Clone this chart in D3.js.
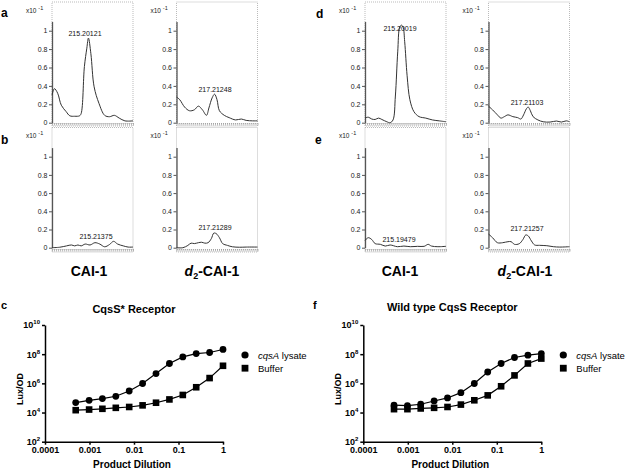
<!DOCTYPE html>
<html>
<head>
<meta charset="utf-8">
<script src="https://cdn.jsdelivr.net/npm/d3@7"></script>
<style>
body { margin: 0; background: #fff; }
svg { font-family: "Liberation Sans", Arial, sans-serif; }
</style>
</head>
<body>
<svg width="627" height="469"></svg>
<script>
// chromatogram traces: [relative retention time, intensity (x10^-1)]
const traceA = [[0,0.30],[0.03,0.37],[0.07,0.32],[0.115,0.19],[0.175,0.12],[0.22,0.075],[0.28,0.07],[0.34,0.075],[0.36,0.10],[0.40,0.61],[0.43,0.81],[0.45,0.92],[0.48,0.75],[0.52,0.39],[0.58,0.21],[0.65,0.08],[0.71,0.065],[0.77,0.08],[0.83,0.05],[0.9,0.02],[1.0,0.02]];
const traceAd2 = [[0,0.28],[0.04,0.25],[0.10,0.17],[0.16,0.13],[0.22,0.14],[0.27,0.18],[0.32,0.14],[0.37,0.08],[0.40,0.16],[0.44,0.27],[0.47,0.31],[0.50,0.25],[0.53,0.13],[0.59,0.08],[0.65,0.055],[0.73,0.03],[0.80,0.04],[0.86,0.025],[0.94,0.02],[1.0,0.02]];
const traceB = [[0,0],[0.095,0.005],[0.18,0.02],[0.24,0.03],[0.28,0.02],[0.32,0.03],[0.36,0.02],[0.41,0.04],[0.47,0.03],[0.53,0.055],[0.59,0.04],[0.65,0.01],[0.71,0.035],[0.76,0.07],[0.81,0.04],[0.88,0.02],[0.94,0.007],[1.0,0.007]];
const traceBd2 = [[0,0],[0.08,0],[0.14,0.025],[0.18,0.05],[0.22,0.045],[0.27,0.055],[0.31,0.06],[0.35,0.05],[0.39,0.055],[0.43,0.1],[0.46,0.16],[0.49,0.155],[0.53,0.11],[0.57,0.045],[0.63,0.025],[0.69,0.01],[0.78,0.005],[0.86,0.007],[1.0,0.007]];
const traceD = [[0,0.05],[0.04,0.06],[0.083,0.04],[0.125,0.035],[0.167,0.05],[0.208,0.035],[0.27,0.01],[0.31,0],[0.346,0.03],[0.375,0.29],[0.404,0.77],[0.429,1.04],[0.45,1.06],[0.47,1.04],[0.49,0.88],[0.52,0.51],[0.554,0.25],[0.604,0.12],[0.667,0.066],[0.75,0.05],[0.833,0.03],[0.917,0.02],[1.0,0.01]];
const traceDd2 = [[0,0.18],[0.05,0.14],[0.11,0.085],[0.154,0.05],[0.196,0.066],[0.24,0.085],[0.30,0.066],[0.36,0.055],[0.40,0.04],[0.433,0.085],[0.467,0.15],[0.49,0.17],[0.517,0.13],[0.55,0.066],[0.61,0.03],[0.675,0.01],[0.76,0.007],[0.84,0.018],[0.90,0.007],[0.96,0.02],[1.0,0.01]];
const traceE = [[0,0.08],[0.04,0.11],[0.083,0.09],[0.125,0.045],[0.19,0.037],[0.25,0.018],[0.31,0.03],[0.4,0.011],[0.48,0.018],[0.56,0.011],[0.65,0.015],[0.73,0.015],[0.78,0.037],[0.82,0.018],[0.9,0.011],[1.0,0.015]];
const traceEd2 = [[0,0.15],[0.05,0.11],[0.11,0.055],[0.175,0.055],[0.24,0.066],[0.28,0.066],[0.32,0.037],[0.38,0.044],[0.425,0.09],[0.46,0.14],[0.49,0.13],[0.53,0.074],[0.57,0.03],[0.63,0.026],[0.72,0.022],[0.8,0.011],[0.88,0.007],[1.0,0.011]];
const intensityTicks = [0, 0.2, 0.4, 0.6, 0.8, 1];

// dose response (Lux/OD)
const dilutions = [0.00049, 0.00098, 0.00195, 0.0039, 0.0078, 0.0156, 0.03125, 0.0625, 0.125, 0.25, 0.5, 1];
const lysateStar = [4.8e4, 6.9e4, 9.1e4, 1.3e5, 3.0e5, 9.8e5, 4.7e6, 2.3e7, 6.5e7, 1.1e8, 1.3e8, 2.1e8];
const bufferStar = [1.45e4, 1.6e4, 1.8e4, 2.1e4, 2.4e4, 3.1e4, 4.7e4, 7.9e4, 1.6e5, 5.4e5, 2.3e6, 1.6e7];
const lysateWT = [3.2e4, 3.0e4, 3.7e4, 6.2e4, 1.0e5, 2.3e5, 9.8e5, 6.0e6, 2.3e7, 5.9e7, 8.5e7, 1.1e8];
const bufferWT = [1.7e4, 1.7e4, 1.9e4, 2.1e4, 2.4e4, 3.5e4, 6.9e4, 1.5e5, 6.3e5, 3.5e6, 2.3e7, 5.0e7];
const luxTicks = [1e2, 1e4, 1e6, 1e8, 1e10];
const dilutionTicks = [0.0001, 0.001, 0.01, 0.1, 1];
const dilutionLabels = ["0.0001", "0.001", "0.01", "0.1", "1"];

const svg = d3.select("svg");

// ---------- chromatograms ----------
const cols = [52, 176.5, 365, 488.5];
const frameW = 81;
const rows = [
    {top: 2, bottom: 126, zero: 122.7, one: 30.7},
    {top: 127.5, bottom: 252, zero: 247.7, one: 156.7}
];

const chromPanels = [
    {trace: traceA, mass: "215.20121", col: 0, row: 0, lx: 85, ly: 35.5},
    {trace: traceAd2, mass: "217.21248", col: 1, row: 0, lx: 215, ly: 91.5},
    {trace: traceB, mass: "215.21375", col: 0, row: 1, lx: 96, ly: 239},
    {trace: traceBd2, mass: "217.21289", col: 1, row: 1, lx: 215, ly: 230},
    {trace: traceD, mass: "215.20019", col: 2, row: 0, lx: 400, ly: 30.5},
    {trace: traceDd2, mass: "217.21103", col: 3, row: 0, lx: 527, ly: 105},
    {trace: traceE, mass: "215.19479", col: 2, row: 1, lx: 399, ly: 242},
    {trace: traceEd2, mass: "217.21257", col: 3, row: 1, lx: 527, ly: 230.5}
];

chromPanels.forEach(p => {
    const x0 = cols[p.col];
    const r = rows[p.row];
    const unit = r.zero - r.one;
    const x = d3.scaleLinear().domain([0, 1]).range([x0, x0 + frameW]);
    const y = d3.scaleLinear().domain([0, 1.1]).range([r.zero, r.zero - 1.1 * unit]);
    const g = svg.append("g");

    // dotted frame
    g.append("rect")
        .attr("x", x0).attr("y", r.top)
        .attr("width", frameW).attr("height", r.bottom - r.top)
        .attr("fill", "none")
        .attr("stroke", "#aaa")
        .attr("stroke-width", 0.8)
        .attr("stroke-dasharray", "1,1");

    // dense tick band along the time axis
    const xAxis = d3.axisBottom(x)
        .tickValues(d3.range(0, 1.0001, 1 / 40))
        .tickSize(2.5).tickSizeOuter(0).tickFormat("");
    const xg = g.append("g")
        .attr("transform", `translate(0,${r.bottom - 3})`)
        .call(xAxis);
    xg.select(".domain").attr("stroke", "#bbb").attr("stroke-dasharray", "1,1");
    xg.selectAll(".tick line").attr("stroke", "#999").attr("stroke-width", 0.7);

    // intensity axis
    const yAxis = d3.axisLeft(y)
        .tickValues(intensityTicks)
        .tickSize(3).tickSizeOuter(0).tickPadding(1.5)
        .tickFormat(d => String(d));
    const yg = g.append("g")
        .attr("transform", `translate(${x0},0)`)
        .call(yAxis);
    yg.select(".domain").attr("stroke", "#555").attr("stroke-width", 1.3);
    yg.selectAll(".tick line").attr("stroke", "#555");
    yg.selectAll(".tick text")
        .attr("font-size", 7)
        .attr("font-family", "'Liberation Sans', Arial, sans-serif")
        .attr("fill", "#222");

    // x10^-1 multiplier
    const mult = g.append("text")
        .attr("x", x0 - 26).attr("y", r.top + 10.5)
        .attr("font-size", 6.5).attr("fill", "#222")
        .text("x10 ");
    mult.append("tspan").attr("dy", -3).attr("font-size", 5.5).text("-1");

    // trace
    const line = d3.line()
        .x(d => x(d[0]))
        .y(d => y(d[1]))
        .curve(d3.curveCatmullRom.alpha(0.5));
    g.append("path")
        .datum(p.trace)
        .attr("d", line)
        .attr("fill", "none")
        .attr("stroke", "#333")
        .attr("stroke-width", 1);

    // mass label
    g.append("text")
        .attr("x", p.lx).attr("y", p.ly)
        .attr("text-anchor", "middle")
        .attr("font-size", 7).attr("fill", "#111")
        .text(p.mass);
});

// panel letters
[["a", 1, 17], ["b", 1, 144], ["d", 316, 18], ["e", 315, 144]].forEach(([t, lx, ly]) => {
    svg.append("text").attr("x", lx).attr("y", ly)
        .attr("font-size", 12).attr("font-weight", "bold").text(t);
});

// compound names under the columns
[[89, false], [212, true], [400, false], [525, true]].forEach(([cx, deut]) => {
    const t = svg.append("text")
        .attr("x", cx).attr("y", 276)
        .attr("text-anchor", "middle")
        .attr("font-size", 14).attr("font-weight", "bold");
    if (deut) {
        t.append("tspan").attr("font-style", "italic").text("d");
        t.append("tspan").attr("font-size", 9).attr("dy", 3).text("2");
        t.append("tspan").attr("dy", -3).text("-CAI-1");
    } else {
        t.text("CAI-1");
    }
});

// ---------- dose response ----------
const yLux = d3.scaleLog().domain([1e2, 1e10]).range([441.7, 325]);

function drawDose(cfg) {
    const x = d3.scaleLog().domain([1e-4, 1]).range([cfg.left, cfg.left + 178]);
    const g = svg.append("g");

    const xg = g.append("g")
        .attr("transform", `translate(0,${yLux(1e2)})`)
        .call(d3.axisBottom(x).tickValues(dilutionTicks).tickSize(3).tickSizeOuter(0)
            .tickPadding(2)
            .tickFormat((d, i) => dilutionLabels[i]));
    xg.selectAll(".tick text").attr("font-size", 9).attr("font-weight", "bold")
        .attr("font-family", "'Liberation Sans', Arial, sans-serif").attr("fill", "#000");

    const yg = g.append("g")
        .attr("transform", `translate(${cfg.left},0)`)
        .call(d3.axisLeft(yLux).tickValues(luxTicks).tickSize(3).tickSizeOuter(0)
            .tickPadding(2).tickFormat(""));
    yg.selectAll(".tick text")
        .attr("font-size", 9).attr("font-weight", "bold")
        .attr("font-family", "'Liberation Sans', Arial, sans-serif").attr("fill", "#000")
        .text("10")
        .append("tspan").attr("dy", -4).attr("font-size", 6)
        .text(d => Math.round(Math.log10(d)));

    g.selectAll(".domain, .tick line").attr("stroke", "#000").attr("stroke-width", 1.5);

    const series = [
        {vals: cfg.lysate, shape: "circle"},
        {vals: cfg.buffer, shape: "square"}
    ];
    const line = d3.line().x(d => x(d[0])).y(d => yLux(d[1]));
    series.forEach(s => {
        const pts = dilutions.map((d, i) => [d, s.vals[i]]);
        g.append("path").datum(pts).attr("d", line)
            .attr("fill", "none").attr("stroke", "#000").attr("stroke-width", 1.2);
        if (s.shape === "circle") {
            g.selectAll(null).data(pts).enter().append("circle")
                .attr("cx", d => x(d[0])).attr("cy", d => yLux(d[1]))
                .attr("r", 3.4).attr("fill", "#000");
        } else {
            g.selectAll(null).data(pts).enter().append("rect")
                .attr("x", d => x(d[0]) - 3.3).attr("y", d => yLux(d[1]) - 3.3)
                .attr("width", 6.6).attr("height", 6.6).attr("fill", "#000");
        }
    });

    // legend
    const lx = cfg.left + 200;
    g.append("circle").attr("cx", lx).attr("cy", 355).attr("r", 3.6).attr("fill", "#000");
    g.append("rect").attr("x", lx - 3.4).attr("y", 364.8).attr("width", 6.8).attr("height", 6.8).attr("fill", "#000");
    const lt = g.append("text").attr("x", lx + 13).attr("y", 358.5).attr("font-size", 9.5);
    lt.append("tspan").attr("font-style", "italic").text("cqsA");
    lt.append("tspan").text(" lysate");
    g.append("text").attr("x", lx + 13).attr("y", 371.5).attr("font-size", 9.5).text("Buffer");

    // titles
    g.append("text").attr("x", cfg.left + 89).attr("y", cfg.titleY)
        .attr("text-anchor", "middle").attr("font-size", 11).attr("font-weight", "bold")
        .text(cfg.title);
    g.append("text").attr("x", cfg.left + 87).attr("y", 468)
        .attr("text-anchor", "middle").attr("font-size", 10).attr("font-weight", "bold")
        .text("Product Dilution");
    g.append("text")
        .attr("transform", `translate(${cfg.left - 22},389) rotate(-90)`)
        .attr("text-anchor", "middle").attr("font-size", 9).attr("font-weight", "bold")
        .text("Lux/OD");
    g.append("text").attr("x", cfg.letterX).attr("y", 309)
        .attr("font-size", 11).attr("font-weight", "bold").text(cfg.letter);
}

drawDose({left: 45, title: "CqsS* Receptor", titleY: 313, letter: "c", letterX: 1,
    lysate: lysateStar, buffer: bufferStar});
drawDose({left: 363.3, title: "Wild type CqsS Receptor", titleY: 310.5, letter: "f", letterX: 313,
    lysate: lysateWT, buffer: bufferWT});
</script>
</body>
</html>
